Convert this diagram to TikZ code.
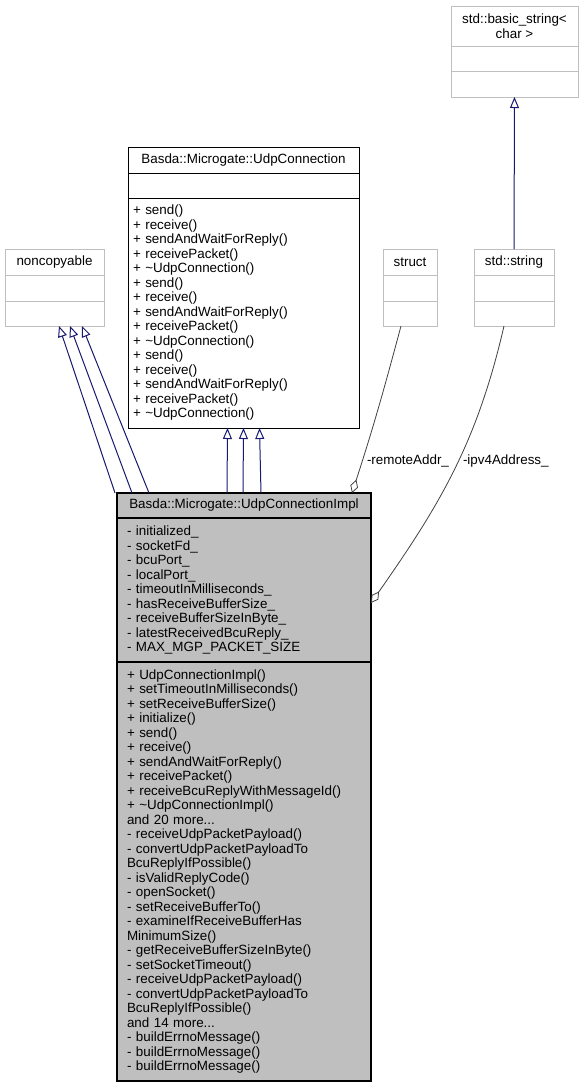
\documentclass[tikz,border=0pt]{standalone}
\usepackage{fontspec}
\setmainfont{Liberation Sans}
\usetikzlibrary{positioning, arrows.meta}
\newcommand{\pxunit}{1pt}
\definecolor{edgeblue}{HTML}{191970}
\definecolor{boxgray}{HTML}{BFBFBF}
\definecolor{linegray}{HTML}{404040}

\begin{document}
\begin{tikzpicture}
\useasboundingbox (0,0) rectangle (583*\pxunit,-1088*\pxunit);
\tikzstyle{every node}=[inner sep=0pt,
			outer sep=0pt,
			font=\fontsize{13.4}{14.5}\selectfont
			]
\tikzstyle{plainbox}=[draw=boxgray, line width=1pt, fill=white]
\tikzstyle{mainbox}=[draw=black, line width=1pt, fill=white]
\tikzstyle{implbox}=[draw=black, line width=1.2pt, fill=boxgray]
\tikzstyle{inherit}=[draw=edgeblue, line width=1pt, -{Triangle[open,length=11pt,width=9pt]}]
\tikzstyle{aggregate}=[draw=linegray, line width=0.8pt, {Diamond[open,length=14pt,width=8pt]}-]


\node[plainbox, anchor=north west, minimum width=127*\pxunit, minimum height=40*\pxunit, align=center] (basicstr) at (451*\pxunit,-6*\pxunit) {std::basic\_string<\\char >};
\node[plainbox, minimum width=127*\pxunit, minimum height=25*\pxunit, below=0pt of basicstr] (basicstrattr) {};
\node[plainbox, minimum width=127*\pxunit, minimum height=26*\pxunit, below=0pt of basicstrattr] (basicstrmeth) {};


\node[mainbox, anchor=north west, minimum width=231*\pxunit, minimum height=26*\pxunit] (udpconn) at (128*\pxunit,-147*\pxunit) {Basda::Microgate::UdpConnection};
\node[mainbox, minimum width=231*\pxunit, minimum height=25*\pxunit, below=0pt of udpconn] (udpconnattr) {};
\node[mainbox, minimum height=230*\pxunit, text width=221*\pxunit, inner xsep=5*\pxunit, align=left, below=0pt of udpconnattr] (udpconnmeth) {+ send()\\+ receive()\\+ sendAndWaitForReply()\\+ receivePacket()\\+ \textasciitilde UdpConnection()\\+ send()\\+ receive()\\+ sendAndWaitForReply()\\+ receivePacket()\\+ \textasciitilde UdpConnection()\\+ send()\\+ receive()\\+ sendAndWaitForReply()\\+ receivePacket()\\+ \textasciitilde UdpConnection()};


\node[plainbox, anchor=north west, minimum width=99*\pxunit, minimum height=26*\pxunit] (noncopy) at (5*\pxunit,-249*\pxunit) {noncopyable};
\node[plainbox, minimum width=99*\pxunit, minimum height=26*\pxunit, below=0pt of noncopy] (noncopyattr) {};
\node[plainbox, minimum width=99*\pxunit, minimum height=25*\pxunit, below=0pt of noncopyattr] (noncopymeth) {};


\node[plainbox, anchor=north west, minimum width=54*\pxunit, minimum height=26*\pxunit] (struct) at (383*\pxunit,-249*\pxunit) {struct};
\node[plainbox, minimum width=54*\pxunit, minimum height=26*\pxunit, below=0pt of struct] (structattr) {};
\node[plainbox, minimum width=54*\pxunit, minimum height=25*\pxunit, below=0pt of structattr] (structmeth) {};


\node[plainbox, anchor=north west, minimum width=80*\pxunit, minimum height=26*\pxunit] (stdstring) at (474*\pxunit,-249*\pxunit) {std::string};
\node[plainbox, minimum width=80*\pxunit, minimum height=26*\pxunit, below=0pt of stdstring] (stdstringattr) {};
\node[plainbox, minimum width=80*\pxunit, minimum height=25*\pxunit, below=0pt of stdstringattr] (stdstringmeth) {};


\node[implbox, anchor=north west, minimum width=254*\pxunit, minimum height=25*\pxunit] (impl) at (117*\pxunit,-493*\pxunit) {Basda::Microgate::UdpConnectionImpl};
\node[implbox, minimum height=144*\pxunit, text width=234*\pxunit, inner xsep=10*\pxunit, align=left, below=0pt of impl] (implattr) {- initialized\_\\- socketFd\_\\- bcuPort\_\\- localPort\_\\- timeoutInMilliseconds\_\\- hasReceiveBufferSize\_\\- receiveBufferSizeInByte\_\\- latestReceivedBcuReply\_\\- MAX\_MGP\_PACKET\_SIZE};
\node[implbox, minimum height=419*\pxunit, text width=234*\pxunit, inner xsep=10*\pxunit, align=left, below=0pt of implattr] (implmeth) {+ UdpConnectionImpl()\\+ setTimeoutInMilliseconds()\\+ setReceiveBufferSize()\\+ initialize()\\+ send()\\+ receive()\\+ sendAndWaitForReply()\\+ receivePacket()\\+ receiveBcuReplyWithMessageId()\\+ \textasciitilde UdpConnectionImpl()\\and 20 more...\\- receiveUdpPacketPayload()\\- convertUdpPacketPayloadTo\\BcuReplyIfPossible()\\- isValidReplyCode()\\- openSocket()\\- setReceiveBufferTo()\\- examineIfReceiveBufferHas\\MinimumSize()\\- getReceiveBufferSizeInByte()\\- setSocketTimeout()\\- receiveUdpPacketPayload()\\- convertUdpPacketPayloadTo\\BcuReplyIfPossible()\\and 14 more...\\- buildErrnoMessage()\\- buildErrnoMessage()\\- buildErrnoMessage()};


\node[anchor=west] (remotelbl) at (367*\pxunit,-461*\pxunit) {-remoteAddr\_};
\node[anchor=west] (ipv4lbl) at (463*\pxunit,-461*\pxunit) {-ipv4Address\_};


\draw[inherit] (stdstring.north) -- (basicstrmeth.south);

\draw[inherit] ([xshift=-2*\pxunit]impl.north west) -- ([xshift=4.5*\pxunit]noncopymeth.south);
\draw[inherit] ([xshift=15*\pxunit]impl.north west) -- ([xshift=15.5*\pxunit]noncopymeth.south);
\draw[inherit] ([xshift=32*\pxunit]impl.north west) -- ([xshift=27.5*\pxunit]noncopymeth.south);

\draw[inherit] ([xshift=-17*\pxunit]impl.north) -- ([xshift=-16*\pxunit]udpconnmeth.south);
\draw[inherit] ([xshift=-1*\pxunit]impl.north) -- ([xshift=0*\pxunit]udpconnmeth.south);
\draw[inherit] ([xshift=17*\pxunit]impl.north) -- ([xshift=16*\pxunit]udpconnmeth.south);

\draw[aggregate] ([xshift=-19*\pxunit]impl.north east) to[out=72,in=-105] ([xshift=-9*\pxunit]structmeth.south);
\draw[aggregate] ([yshift=-13*\pxunit]implattr.east) to[out=55,in=-103] ([xshift=-10*\pxunit]stdstringmeth.south);

\end{tikzpicture}
\end{document}
